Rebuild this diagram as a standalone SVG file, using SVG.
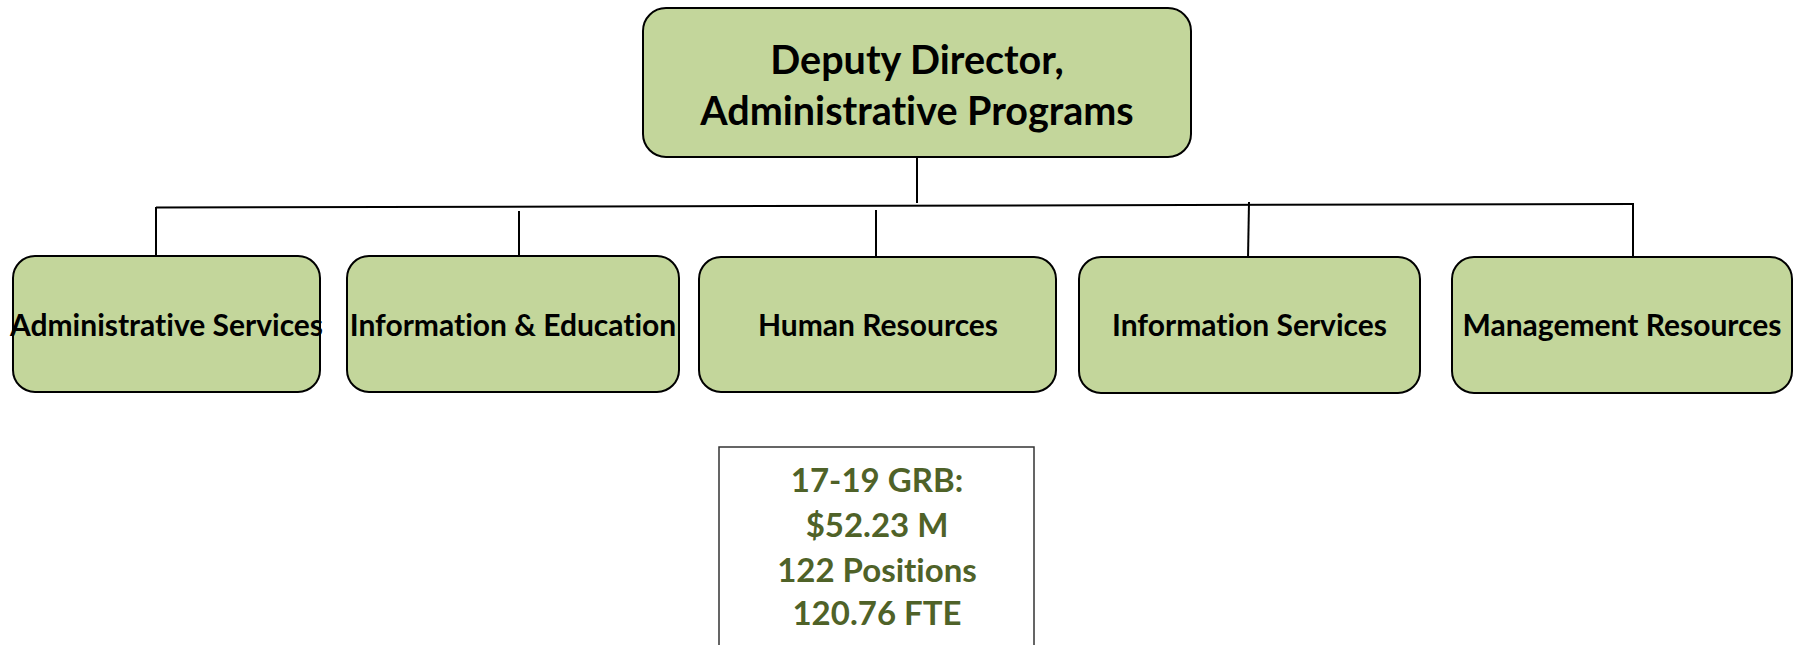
<svg xmlns="http://www.w3.org/2000/svg" width="1798" height="645" viewBox="0 0 1798 645">
<style>
.box{fill:#C3D69B;stroke:#000;stroke-width:2}
.lbl{font-family:Lato,"Liberation Sans",sans-serif;font-weight:bold;font-size:30px;fill:#000;text-anchor:middle;font-variant-ligatures:none}
.top{font-size:39.5px}
.stat{font-family:Lato,"Liberation Sans",sans-serif;font-weight:bold;font-size:33px;fill:#4F6228;text-anchor:middle;font-variant-ligatures:none}
.conn{stroke:#000;stroke-width:2;fill:none}
</style>
<rect width="1798" height="645" fill="#fff"/>
<g id="connectors">
<line class="conn" x1="917" y1="157" x2="917" y2="203"/>
<line class="conn" x1="156" y1="207.5" x2="1634" y2="204"/>
<line class="conn" x1="156" y1="207" x2="156" y2="256"/>
<line class="conn" x1="519" y1="211" x2="519" y2="257"/>
<line class="conn" x1="876" y1="210" x2="876" y2="257"/>
<line class="conn" x1="1249" y1="202" x2="1248" y2="259"/>
<line class="conn" x1="1633" y1="204" x2="1633" y2="257"/>
</g>
<g id="deputy">
<rect class="box" x="643" y="8" width="548" height="149" rx="23"/>
<text class="lbl top" x="917" y="74">Deputy Director,</text>
<text class="lbl top" x="917" y="125">Administrative Programs</text>
</g>
<g id="admin-services">
<rect class="box" x="13" y="256" width="307" height="136" rx="22"/>
<text class="lbl" x="166.5" y="336">Administrative Services</text>
</g>
<g id="info-education">
<rect class="box" x="347" y="256" width="332" height="136" rx="22"/>
<text class="lbl" x="513" y="336">Information &amp; Education</text>
</g>
<g id="human-resources">
<rect class="box" x="699" y="257" width="357" height="135" rx="22"/>
<text class="lbl" x="878" y="336">Human Resources</text>
</g>
<g id="info-services">
<rect class="box" x="1079" y="257" width="341" height="136" rx="22"/>
<text class="lbl" x="1249.5" y="336">Information Services</text>
</g>
<g id="management-resources">
<rect class="box" x="1452" y="257" width="340" height="136" rx="22"/>
<text class="lbl" x="1622" y="336">Management Resources</text>
</g>
<g id="budget">
<rect x="719" y="447" width="315" height="220" fill="#fff" stroke="#333" stroke-width="1.5"/>
<text class="stat" x="877" y="492">17-19 GRB:</text>
<text class="stat" x="877" y="537">$52.23 M</text>
<text class="stat" x="877" y="582">122 Positions</text>
<text class="stat" x="877" y="625">120.76 FTE</text>
</g>
</svg>
